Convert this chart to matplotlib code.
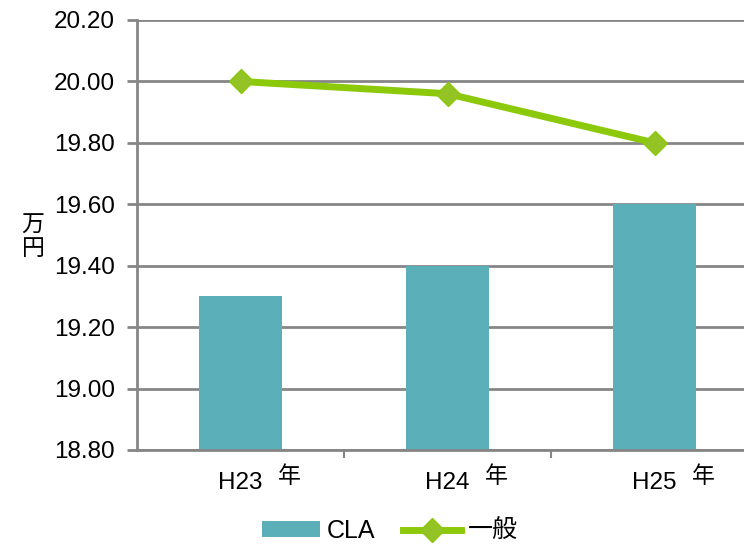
import matplotlib.pyplot as plt
from matplotlib.transforms import blended_transform_factory
import numpy as np

plt.rcParams['font.family'] = ['Liberation Sans', 'Noto Sans CJK JP']

# data
years = ['H23', 'H24', 'H25']
cla = [19.30, 19.40, 19.60]
ippan = [20.00, 19.96, 19.80]
yticks = [18.80, 19.00, 19.20, 19.40, 19.60, 19.80, 20.00, 20.20]

bar_col = '#5aafb8'
line_col = '#8cc90b'
mark_col = '#93c324'
grid_col = '#868686'

fig = plt.figure(figsize=(7.44, 5.44), dpi=100)
ax = fig.add_axes([137/744, 1 - 450/544, 621/744, 430/544])

x = np.arange(len(years))
bars = ax.bar(x, [v - 18.8 for v in cla], bottom=18.8, width=0.4,
              color=bar_col, zorder=2)
line, = ax.plot(x, ippan, color=line_col, lw=5, marker='D', ms=12.5,
                mfc=mark_col, mec=line_col, mew=1, zorder=3)

ax.set_xlim(-0.5, 2.5)
ax.set_ylim(18.8, 20.2)
ax.set_yticks(yticks)
ax.set_yticklabels([f'{v:.2f}' for v in yticks], fontsize=17.5)
ax.yaxis.grid(True, color=grid_col, lw=2, zorder=0)
ax.set_axisbelow(True)

for s in ['top', 'right']:
    ax.spines[s].set_visible(False)
for s in ['left', 'bottom']:
    ax.spines[s].set_color(grid_col)
    ax.spines[s].set_linewidth(2)
ax.tick_params(axis='y', length=7, width=2, color=grid_col, pad=9)

# category boundary ticks on the x axis
ax.set_xticks([0.5, 1.5])
ax.set_xticklabels([])
ax.tick_params(axis='x', length=6, width=1.5, color=grid_col)

tr = blended_transform_factory(ax.transData, ax.transAxes)
for i, y in enumerate(years):
    ax.text(i, -39/430, y, transform=tr, ha='center', va='baseline',
            fontsize=17.5)
    ax.text(i + 0.234, -33/430, '年', transform=tr, ha='center',
            va='baseline', fontsize=16.5, family='Noto Sans CJK JP')

fig.text(33/744, 1 - 237/544, '万\n円', ha='center', va='center',
         fontsize=16.5, family='Noto Sans CJK JP', linespacing=1.0)

fig.legend([bars, line], ['CLA', '一般'], loc='center',
           bbox_to_anchor=(390/744, 1 - 531/544), ncol=2,
           frameon=False, fontsize=18, handlelength=2.3, handleheight=0.6,
           columnspacing=1.1, handletextpad=0.3)

fig.savefig('out.png', dpi=100)
